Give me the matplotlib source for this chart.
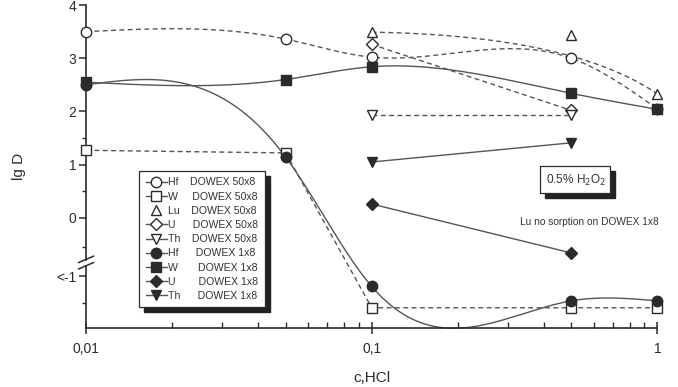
import numpy as np
import matplotlib
matplotlib.use("Agg")
import matplotlib.pyplot as plt
from matplotlib.transforms import blended_transform_factory
from matplotlib.lines import Line2D
from matplotlib.patches import Rectangle

plt.rcParams['font.family'] = ['Liberation Sans', 'DejaVu Sans']

# c(HCl), mol/L
conc = [0.01, 0.05, 0.1, 0.5, 1.0]
conc_hi = [0.1, 0.5, 1.0]
conc_mid = [0.1, 0.5]

# lg D values
hf_50 = [3.5, 3.36, 3.02, 3.0, 2.05]
w_50 = [1.27, 1.22, -1.69, -1.69, -1.69]
lu_50 = [3.49, 3.43, 2.33]
u_50 = [3.26, 2.02]
th_50 = [1.93, 1.93]
hf_1 = [2.5, 1.14, -1.29, -1.56, -1.56]
w_1 = [2.55, 2.6, 2.84, 2.34, 2.04]
u_1 = [0.26, -0.66]
th_1 = [1.05, 1.41]

INK = '#2b2b2b'
LINE = '#555555'


def smooth(x, y, n=200):
    """natural cubic spline in log10(x), just for drawing the curve"""
    lx = np.log10(x)
    y = np.asarray(y, float)
    k = len(lx)
    h = np.diff(lx)
    A = np.zeros((k, k))
    b = np.zeros(k)
    A[0, 0] = A[-1, -1] = 1
    for i in range(1, k - 1):
        A[i, i - 1] = h[i - 1]
        A[i, i] = 2 * (h[i - 1] + h[i])
        A[i, i + 1] = h[i]
        b[i] = 6 * ((y[i + 1] - y[i]) / h[i] - (y[i] - y[i - 1]) / h[i - 1])
    M = np.linalg.solve(A, b)
    xs = np.linspace(lx[0], lx[-1], n)
    ys = np.empty_like(xs)
    for j, t in enumerate(xs):
        i = min(np.searchsorted(lx, t, side='right') - 1, k - 2)
        a, c = lx[i + 1] - t, t - lx[i]
        ys[j] = (M[i] * a ** 3 + M[i + 1] * c ** 3) / (6 * h[i]) \
            + (y[i] / h[i] - M[i] * h[i] / 6) * a \
            + (y[i + 1] / h[i] - M[i + 1] * h[i] / 6) * c
    return 10 ** xs, ys


def bezier(x, y, n=100):
    """3-point B-spline (quadratic bezier) in log10(x)"""
    lx = np.log10(x)
    t = np.linspace(0, 1, n)
    bx = (1 - t) ** 2 * lx[0] + 2 * t * (1 - t) * lx[1] + t ** 2 * lx[2]
    by = (1 - t) ** 2 * y[0] + 2 * t * (1 - t) * y[1] + t ** 2 * y[2]
    return 10 ** bx, by


fig = plt.figure(figsize=(6.78, 3.87), dpi=100)
ax = fig.add_axes([0.127, 0.1525, 0.8425, 0.8345])
ax.set_xscale('log')
ax.set_xlim(0.01, 1.0)
ax.set_ylim(-2.07, 4.0)

open_kw = dict(mfc='white', mec=INK, mew=1.0, ms=7.5, clip_on=False, zorder=4)
fill_kw = dict(mfc=INK, mec=INK, mew=1.0, ms=7.5, clip_on=False, zorder=4)
dash = dict(color=LINE, lw=1.0, ls=(0, (3.5, 2.5)), clip_on=False, zorder=2)
solid = dict(color=LINE, lw=1.0, ls='-', clip_on=False, zorder=2)

# curves
ax.plot(*smooth(conc, hf_50), **dash)
ax.plot(conc, w_50, **dash)
ax.plot(*bezier(conc_hi, lu_50), **dash)
ax.plot(conc_mid, u_50, **dash)
ax.plot(conc_mid, th_50, **dash)
ax.plot(*smooth(conc, hf_1), **solid)
ax.plot(*smooth(conc, w_1), **solid)
ax.plot(conc_mid, u_1, **solid)
ax.plot(conc_mid, th_1, **solid)

# markers
h = []
h += ax.plot(conc, hf_50, 'o', label='Hf    DOWEX 50x8', **open_kw)
h += ax.plot(conc, w_50, 's', label='W     DOWEX 50x8', **open_kw)
h += ax.plot(conc_hi, lu_50, '^', label='Lu    DOWEX 50x8', **open_kw)
h += ax.plot(conc_mid, u_50, 'D', label='U      DOWEX 50x8', **dict(open_kw, ms=6.5))
h += ax.plot(conc_mid, th_50, 'v', label='Th    DOWEX 50x8', **open_kw)
h += ax.plot(conc, hf_1, 'o', label='Hf      DOWEX 1x8', **fill_kw)
h += ax.plot(conc, w_1, 's', label='W       DOWEX 1x8', **fill_kw)
h += ax.plot(conc_mid, u_1, 'D', label='U        DOWEX 1x8', **dict(fill_kw, ms=6.5))
h += ax.plot(conc_mid, th_1, 'v', label='Th      DOWEX 1x8', **fill_kw)

# legend handles carry a short line stub like the original (Lu has none)
handles = []
for i, art in enumerate(h):
    handles.append(Line2D([], [], marker=art.get_marker(), mfc=art.get_mfc(),
                          mec=INK, ms=art.get_markersize(), color=LINE, lw=1.0,
                          ls='none' if i == 2 else '-'))
leg = ax.legend(handles, [a.get_label() for a in h], loc='upper left',
                bbox_to_anchor=(0.093, 0.486), borderaxespad=0, fontsize=7.6,
                handlelength=2.0, handletextpad=0.15, labelspacing=0.4,
                frameon=True, fancybox=False, edgecolor=INK, framealpha=1,
                borderpad=0.6)
leg.get_frame().set_linewidth(0.9)
leg.set_zorder(6)
for t in leg.get_texts():
    t.set_color('#333333')

# axes styling
for s in ['top', 'right']:
    ax.spines[s].set_visible(False)
for s in ['left', 'bottom']:
    ax.spines[s].set_linewidth(1.2)
    ax.spines[s].set_color(INK)

ax.set_xticks([0.01, 0.1, 1])
ax.set_xticklabels(['0,01', '0,1', '1'])
ax.set_yticks([4, 3, 2, 1, 0, -1.1])
ax.set_yticklabels(['4', '3', '2', '1', '0', '<-1'])
ax.set_yticks([3.5, 2.5, 1.5, 0.5, -0.55, -1.6], minor=True)
ax.tick_params(axis='x', which='major', direction='inout', length=8, width=1.1,
               labelsize=10, colors=INK, pad=6)
ax.tick_params(axis='x', which='minor', direction='in', length=4, width=1.0, colors=INK)
ax.tick_params(axis='y', which='major', direction='out', length=5, width=1.1,
               labelsize=10, colors=INK, pad=2)
ax.tick_params(axis='y', which='minor', direction='out', length=3, width=1.0, colors=INK)

ax.set_xlabel('c,HCl', fontsize=11, color=INK, labelpad=11)
ax.set_ylabel('lg D', fontsize=11, color=INK, labelpad=22)

# axis break on the y spine
tr = blended_transform_factory(ax.transAxes, ax.transData)
for off in (-0.78, -0.9):
    ax.plot([-0.013, 0.013], [off - 0.06, off + 0.06], color=INK, lw=1.1,
            transform=tr, clip_on=False, zorder=5)
ax.fill_between([-0.004, 0.004], [-0.81, -0.81], [-0.87, -0.87], color='white',
                transform=tr, clip_on=False, zorder=4.5)

# H2O2 box with drop shadow
sx, sy = 5 / 572, 5 / 323
ax.add_patch(Rectangle((0.795 + sx, 0.418 - sy), 0.123, 0.084, transform=ax.transAxes,
                       fc='#222222', ec='#222222', clip_on=False, zorder=6))
ax.add_patch(Rectangle((0.795, 0.418), 0.123, 0.084, transform=ax.transAxes,
                       fc='white', ec=INK, lw=0.9, clip_on=False, zorder=6.5))
ax.text(0.857, 0.458, '0.5% H$_2$O$_2$', transform=ax.transAxes, ha='center',
        va='center', fontsize=8.5, color='#333333', zorder=7)
ax.text(0.759, 0.328, 'Lu no sorption on DOWEX 1x8', transform=ax.transAxes,
        ha='left', va='center', fontsize=7.3, color='#333333', clip_on=False)

# legend shadow, placed from the drawn legend frame
fig.canvas.draw()
bb = leg.get_frame().get_window_extent().transformed(ax.transAxes.inverted())
ax.add_patch(Rectangle((bb.x0 + sx, bb.y0 - sy), bb.width, bb.height,
                       transform=ax.transAxes, fc='#222222', ec='#222222',
                       clip_on=False, zorder=5.5))

fig.savefig('out.png', dpi=100)
